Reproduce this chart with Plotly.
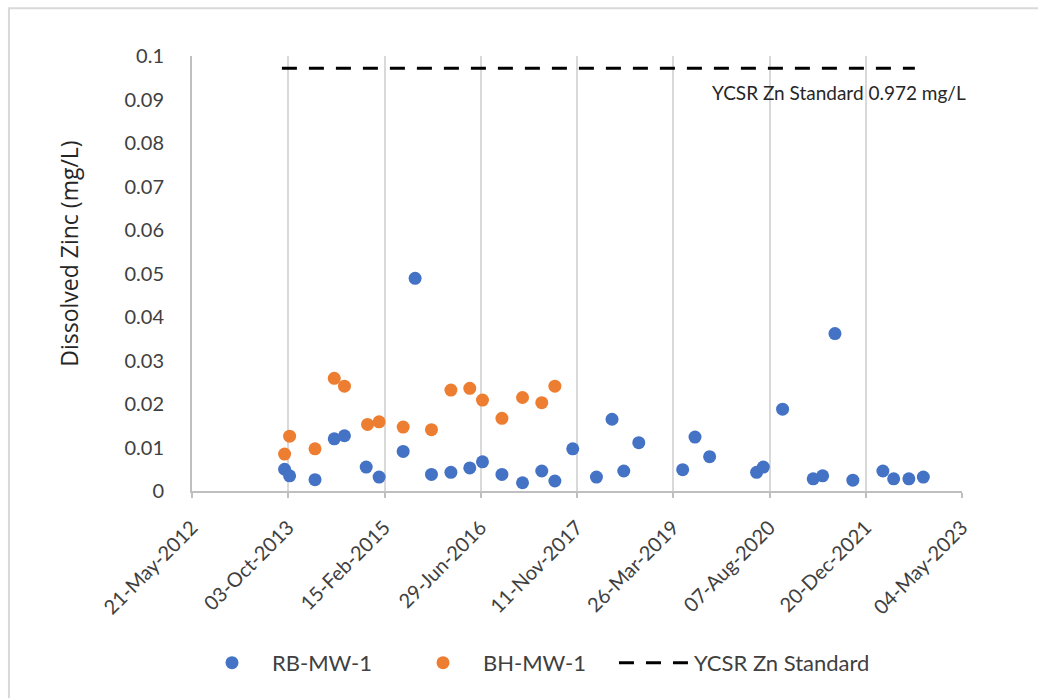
import plotly.graph_objects as go

# Sampling dates and dissolved zinc results (mg/L)
rb_dates = [
    "2013-09-14", "2013-10-10", "2014-02-19", "2014-05-30", "2014-07-22",
    "2014-11-12", "2015-01-18", "2015-05-23", "2015-07-24", "2015-10-17",
    "2016-01-26", "2016-05-03", "2016-07-08", "2016-10-17", "2017-02-01",
    "2017-05-12", "2017-07-19", "2017-10-20", "2018-02-20", "2018-05-12",
    "2018-07-12", "2018-09-28", "2019-05-14", "2019-07-17", "2019-10-01",
    "2020-06-01", "2020-07-06", "2020-10-14", "2021-03-22", "2021-05-10",
    "2021-07-13", "2021-10-14", "2022-03-19", "2022-05-14", "2022-08-01",
    "2022-10-15",
]
rb_zinc = [
    0.0050, 0.0035, 0.0026, 0.0120, 0.0127,
    0.0055, 0.0032, 0.0091, 0.0489, 0.0038,
    0.0043, 0.0053, 0.0067, 0.0038, 0.0019,
    0.0046, 0.0023, 0.0097, 0.0032, 0.0165,
    0.0046, 0.0111, 0.0049, 0.0124, 0.0079,
    0.0043, 0.0055, 0.0188, 0.0028, 0.0035,
    0.0362, 0.0025, 0.0046, 0.0028, 0.0028,
    0.0032,
]

bh_dates = [
    "2013-09-14", "2013-10-10", "2014-02-19", "2014-05-30", "2014-07-22",
    "2014-11-19", "2015-01-18", "2015-05-23", "2015-10-17", "2016-01-26",
    "2016-05-03", "2016-07-08", "2016-10-17", "2017-02-01", "2017-05-12",
    "2017-07-19",
]
bh_zinc = [
    0.0085, 0.0126, 0.0097, 0.0259, 0.0241,
    0.0153, 0.0159, 0.0147, 0.0141, 0.0232,
    0.0236, 0.0209, 0.0167, 0.0215, 0.0203,
    0.0241,
]

# YCSR zinc standard line
standard_dates = ["2013-08-31", "2022-09-01"]
standard_value = 0.0972
standard_label = "YCSR Zn Standard 0.972 mg/L"

# Date axis ticks (500-day spacing)
tick_dates = [
    "2012-05-21", "2013-10-03", "2015-02-15", "2016-06-29", "2017-11-11",
    "2019-03-26", "2020-08-07", "2021-12-20", "2023-05-04",
]
tick_labels = [
    "21-May-2012", "03-Oct-2013", "15-Feb-2015", "29-Jun-2016", "11-Nov-2017",
    "26-Mar-2019", "07-Aug-2020", "20-Dec-2021", "04-May-2023",
]

BLUE = "#4472C4"
ORANGE = "#ED7D31"
TEXT = "#404040"
GRID = "#d9d9d9"
AXIS = "#bfbfbf"
FONT = "Lato"

fig = go.Figure()
fig.add_trace(go.Scatter(
    x=rb_dates, y=rb_zinc, mode="markers", name="RB-MW-1",
    marker=dict(color=BLUE, size=13, line=dict(width=0)),
    legend="legend",
))
fig.add_trace(go.Scatter(
    x=bh_dates, y=bh_zinc, mode="markers", name="BH-MW-1",
    marker=dict(color=ORANGE, size=13, line=dict(width=0)),
    legend="legend",
))
fig.add_trace(go.Scatter(
    x=standard_dates, y=[standard_value] * len(standard_dates), mode="lines",
    name="YCSR Zn Standard",
    line=dict(color="black", width=3, dash="15px,12px"),
    legend="legend2",
))

fig.add_annotation(
    text=standard_label, xref="paper", yref="paper", x=1.008, y=0.917,
    xanchor="right", yanchor="middle", showarrow=False,
    font=dict(family=FONT, size=19, color="#262626"),
)

# Y-axis title placed as rotated text
fig.add_annotation(
    text="Dissolved Zinc (mg/L)", xref="paper", yref="paper",
    x=-0.16, y=0.545, xanchor="center", yanchor="middle",
    textangle=-90, showarrow=False,
    font=dict(family="Open Sans", size=23, color="#262626"),
)

# Light frame around the chart area
fig.add_shape(
    type="rect", xref="paper", yref="paper",
    x0=-0.2377, x1=1.2, y0=-0.6, y1=1.110,
    line=dict(color=GRID, width=2), fillcolor="rgba(0,0,0,0)", layer="below",
)

legend_font = dict(family=FONT, size=22, color=TEXT)

fig.update_layout(
    width=1038, height=698,
    margin=dict(l=192, r=76, t=56, b=207),
    paper_bgcolor="white", plot_bgcolor="white",
    font=dict(family=FONT, size=20, color=TEXT),
    showlegend=True,
    legend=dict(
        orientation="h", x=0.0, xanchor="left", y=-0.395, yanchor="middle",
        itemwidth=70, entrywidth=126, entrywidthmode="pixels",
        font=legend_font,
    ),
    legend2=dict(
        orientation="h", x=0.548, xanchor="left", y=-0.395, yanchor="middle",
        itemwidth=70,
        font=legend_font,
    ),
    xaxis=dict(
        type="date",
        range=[tick_dates[0], tick_dates[-1]],
        tickmode="array", tickvals=tick_dates, ticktext=tick_labels,
        tickangle=-45,
        showgrid=True, gridcolor=GRID, gridwidth=1.5,
        showline=True, linecolor=AXIS, linewidth=2,
        ticks="outside", ticklen=5, tickcolor=AXIS, tickwidth=2,
        ticklabelstandoff=10,
        tickfont=dict(family=FONT, size=20, color=TEXT),
        zeroline=False,
    ),
    yaxis=dict(
        range=[0, 0.1], tickmode="linear", tick0=0, dtick=0.01,
        showgrid=False, zeroline=False,
        showline=True, linecolor=AXIS, linewidth=2,
        ticks="", ticklabelstandoff=22,
        tickfont=dict(family=FONT, size=20, color=TEXT),
    ),
)

fig.write_html("out.html")
